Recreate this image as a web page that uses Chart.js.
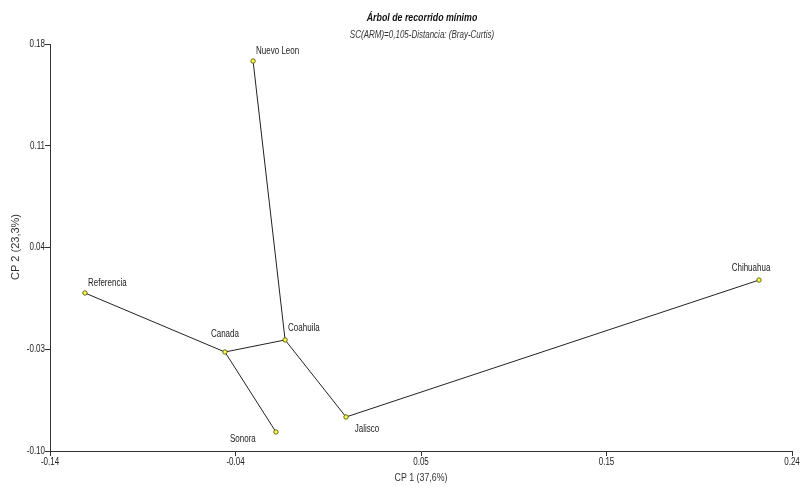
<!DOCTYPE html>
<html>
<head>
<meta charset="utf-8">
<script src="https://cdn.jsdelivr.net/npm/chart.js@4/dist/chart.umd.min.js"></script>
<style>
  html, body { margin: 0; padding: 0; background: #ffffff; }
  #wrap { width: 804px; height: 489px; position: relative; }
</style>
</head>
<body>
<div id="wrap"><canvas id="c" width="804" height="489"></canvas></div>
<script>
// Site scores on the first two principal components
const sites = ['Referencia', 'Canada', 'Coahuila', 'Sonora', 'Nuevo Leon', 'Jalisco', 'Chihuahua'];
const cp1 = [-0.1221, -0.0504, -0.0196, -0.0243, -0.0360, 0.0116, 0.2231];
const cp2 = [0.0087, -0.0319, -0.0236, -0.0869, 0.1683, -0.0766, 0.0176];

// Minimum spanning tree edges (pairs of site names)
const edgeFrom = ['Referencia', 'Canada', 'Canada', 'Coahuila', 'Coahuila', 'Jalisco'];
const edgeTo   = ['Canada', 'Coahuila', 'Sonora', 'Nuevo Leon', 'Jalisco', 'Chihuahua'];

// Axis ticks
const xTickValues = [-0.14, -0.045, 0.05, 0.145, 0.24];
const xTickLabels = ['-0.14', '-0.04', '0.05', '0.15', '0.24'];
const yTickValues = [-0.10, -0.03, 0.04, 0.11, 0.18];
const yTickLabels = ['-0.10', '-0.03', '0.04', '0.11', '0.18'];

const titleText = 'Árbol de recorrido mínimo';
const subtitleText = 'SC(ARM)=0,105-Distancia: (Bray-Curtis)';
const xTitle = 'CP 1 (37,6%)';
const yTitle = 'CP 2 (23,3%)';

// Where each site name sits relative to its marker: [dx, dy, align]
const labelPlacement = {
  'Referencia': [3, -10, 'left'],
  'Canada': [0, -18, 'center'],
  'Coahuila': [3, -12, 'left'],
  'Sonora': [-33, 7, 'center'],
  'Nuevo Leon': [3, -10, 'left'],
  'Jalisco': [21, 12, 'center'],
  'Chihuahua': [-8, -12, 'center']
};

const FONT = '"Liberation Sans", Arial, sans-serif';
const AXIS = '#333333';
const NARROW = 0.8; // horizontal squeeze for a condensed sans look

const idx = name => sites.indexOf(name);
const edgeSets = edgeFrom.map((f, i) => {
  const a = idx(f), b = idx(edgeTo[i]);
  return {
    type: 'scatter',
    data: [{ x: cp1[a], y: cp2[a] }, { x: cp1[b], y: cp2[b] }],
    showLine: true,
    borderColor: '#222222',
    borderWidth: 1,
    pointRadius: 0,
    pointHoverRadius: 0,
    order: 2
  };
});

const pointSet = {
  type: 'scatter',
  data: sites.map((s, i) => ({ x: cp1[i], y: cp2[i] })),
  pointRadius: 2.2,
  pointBackgroundColor: '#ffff55',
  pointBorderColor: '#555500',
  pointBorderWidth: 0.9,
  showLine: false,
  order: 1
};

function narrowText(ctx, text, x, y, align) {
  ctx.save();
  ctx.translate(x, y);
  ctx.scale(NARROW, 1);
  ctx.textAlign = align;
  ctx.fillText(text, 0, 0);
  ctx.restore();
}

const textPlugin = {
  id: 'textPlugin',
  afterDraw(chart) {
    const ctx = chart.ctx;
    const xs = chart.scales.x, ys = chart.scales.y;
    const ca = chart.chartArea;
    ctx.save();
    ctx.textBaseline = 'middle';

    // Site names
    ctx.fillStyle = '#222222';
    ctx.font = '10px ' + FONT;
    sites.forEach((s, i) => {
      const p = labelPlacement[s];
      narrowText(ctx, s, xs.getPixelForValue(cp1[i]) + p[0], ys.getPixelForValue(cp2[i]) + p[1], p[2]);
    });

    // Tick labels
    ctx.fillStyle = '#222222';
    ctx.font = '10px ' + FONT;
    xTickValues.forEach((v, i) => {
      narrowText(ctx, xTickLabels[i], xs.getPixelForValue(v), ca.bottom + 11, 'center');
    });
    yTickValues.forEach((v, i) => {
      narrowText(ctx, yTickLabels[i], ca.left - 5, ys.getPixelForValue(v), 'right');
    });

    // Titles
    const cx = 422;
    ctx.font = 'italic bold 11px ' + FONT;
    ctx.fillStyle = '#111111';
    narrowText(ctx, titleText, cx, 18, 'center');
    ctx.font = 'italic 10px ' + FONT;
    ctx.fillStyle = '#333333';
    narrowText(ctx, subtitleText, cx, 35, 'center');

    // Axis titles
    ctx.font = '11px ' + FONT;
    ctx.fillStyle = '#333333';
    narrowText(ctx, xTitle, 421, 478, 'center');
    ctx.translate(16, 247);
    ctx.rotate(-Math.PI / 2);
    ctx.textAlign = 'center';
    ctx.fillText(yTitle, 0, 0);
    ctx.restore();
  }
};

new Chart(document.getElementById('c'), {
  type: 'scatter',
  data: { datasets: [...edgeSets, pointSet] },
  options: {
    responsive: false,
    animation: false,
    devicePixelRatio: 1,
    layout: { padding: { top: 44, right: 12, left: 0, bottom: 0 } },
    plugins: {
      legend: { display: false },
      tooltip: { enabled: false },
      title: { display: false }
    },
    scales: {
      x: {
        type: 'linear',
        min: -0.14,
        max: 0.24,
        afterBuildTicks: sc => { sc.ticks = xTickValues.map(v => ({ value: v })); },
        afterFit: sc => { sc.height = 38; },
        ticks: {
          callback: (v, i) => xTickLabels[i],
          font: { family: FONT, size: 10 },
          color: 'rgba(0,0,0,0)',
          padding: 1,
          maxRotation: 0,
          autoSkip: false
        },
        grid: { drawOnChartArea: false, drawTicks: true, tickLength: 5, color: AXIS },
        border: { display: true, color: AXIS, width: 1 }
      },
      y: {
        type: 'linear',
        min: -0.10,
        max: 0.18,
        afterBuildTicks: sc => { sc.ticks = yTickValues.map(v => ({ value: v })); },
        afterFit: sc => { sc.width = 50; },
        ticks: {
          callback: (v, i) => yTickLabels[i],
          font: { family: FONT, size: 10 },
          color: 'rgba(0,0,0,0)',
          padding: 1,
          autoSkip: false
        },
        grid: { drawOnChartArea: false, drawTicks: true, tickLength: 5, color: AXIS },
        border: { display: true, color: AXIS, width: 1 }
      }
    }
  },
  plugins: [textPlugin]
});
</script>
</body>
</html>
